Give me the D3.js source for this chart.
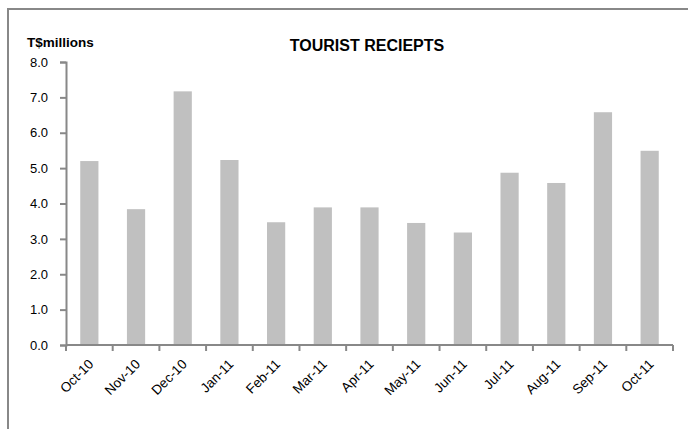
<!DOCTYPE html>
<html><head><meta charset="utf-8">
<script src="https://cdn.jsdelivr.net/npm/d3@7"></script>
<style>body{margin:0;background:#fff}svg{display:block}</style>
</head><body>
<script>
const categories = ["Oct-10","Nov-10","Dec-10","Jan-11","Feb-11","Mar-11","Apr-11","May-11","Jun-11","Jul-11","Aug-11","Sep-11","Oct-11"];
const values = [5.2,3.84,7.17,5.23,3.47,3.89,3.89,3.45,3.18,4.87,4.58,6.58,5.49];
const yTicks = [0,1,2,3,4,5,6,7,8];
const title = "TOURIST RECIEPTS";
const yLabel = "T$millions";

const W=688,H=429;
const svg=d3.select("body").append("svg").attr("width",W).attr("height",H);
svg.append("rect").attr("x",8).attr("y",9).attr("width",W+20).attr("height",H+20)
  .attr("fill","#fff").attr("stroke","#888").attr("stroke-width",2);

const x0=66,x1=673,yTop=62,yBot=345;
const x=d3.scaleBand().domain(categories).range([x0,x1]).paddingInner(0.61).paddingOuter(0.305);
const y=d3.scaleLinear().domain([0,8]).range([yBot,yTop]);
const font="'Liberation Sans', Arial, sans-serif";

svg.append("g").selectAll("rect").data(values).join("rect")
  .attr("x",(d,i)=>x(categories[i])).attr("width",x.bandwidth())
  .attr("y",d=>y(d)).attr("height",d=>yBot-y(d)).attr("fill","#c0c0c0");

const ya=svg.append("g").attr("transform",`translate(${x0},0)`)
  .call(d3.axisLeft(y).tickValues(yTicks).tickFormat(d3.format(".1f")).tickSize(6).tickPadding(12));
ya.select(".domain").attr("stroke","#888").attr("stroke-width",2);
ya.selectAll(".tick line").attr("stroke","#888").attr("stroke-width",2);
ya.selectAll("text").attr("font-family",font).attr("font-size",13).attr("fill","#000");

const step=(x1-x0)/categories.length;
const xa=svg.append("g").attr("transform",`translate(0,${yBot})`);
xa.append("line").attr("x1",x0).attr("x2",x1).attr("stroke","#888").attr("stroke-width",2);
xa.selectAll("line.t").data(d3.range(categories.length+1)).join("line").attr("class","t")
  .attr("x1",i=>x0+i*step).attr("x2",i=>x0+i*step).attr("y1",0).attr("y2",6)
  .attr("stroke","#888").attr("stroke-width",2);
xa.selectAll("text").data(categories).join("text")
  .attr("transform",d=>`translate(${x(d)+x.bandwidth()/2+5},${20}) rotate(-45)`)
  .attr("text-anchor","end").attr("font-family",font).attr("font-size",13.5).attr("fill","#000")
  .text(d=>d);

svg.append("text").attr("x",367).attr("y",51).attr("text-anchor","middle")
  .attr("font-family",font).attr("font-weight","bold").attr("font-size",16).text(title);
svg.append("text").attr("x",27).attr("y",47)
  .attr("font-family",font).attr("font-weight","bold").attr("font-size",13.5).text(yLabel);
</script>
</body></html>
